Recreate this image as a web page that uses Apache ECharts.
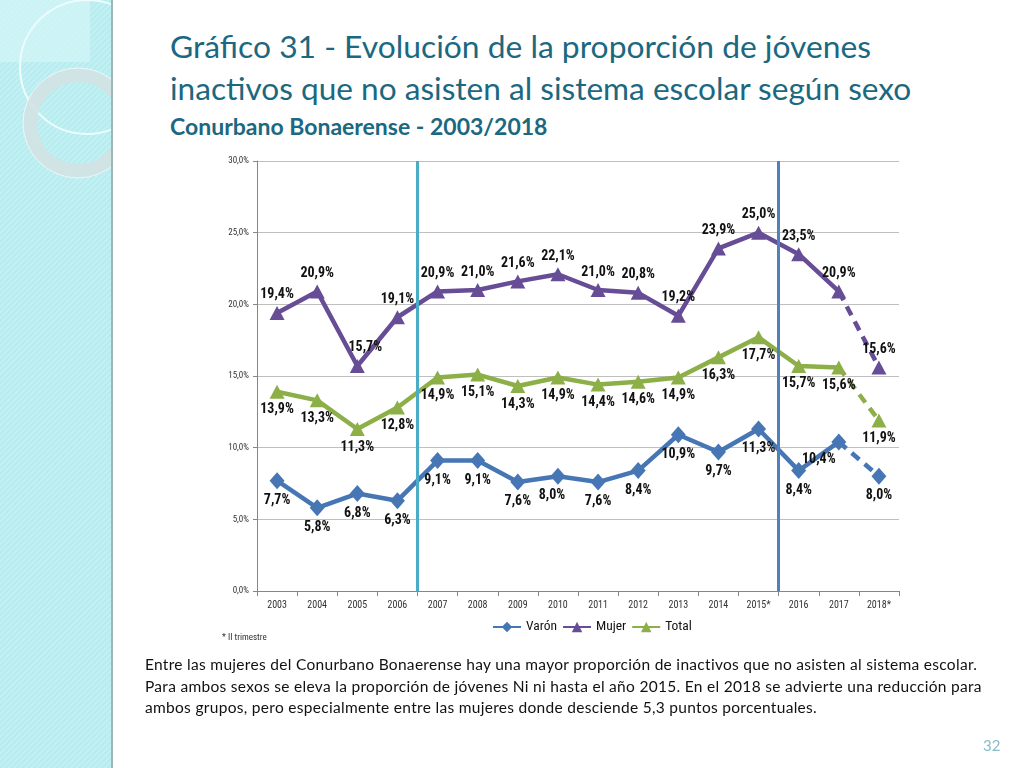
<!DOCTYPE html>
<html>
<head>
<meta charset="utf-8">
<script src="https://cdn.jsdelivr.net/npm/echarts@6/dist/echarts.min.js"></script>
<style>
	html, body { margin: 0; padding: 0; background: #fff; }
	#page { position: relative; width: 1024px; height: 768px; overflow: hidden; background: #fff; }
	#strip { position: absolute; left: 0; top: 0; width: 113px; height: 768px; }
	#main { position: absolute; left: 0; top: 0; width: 1024px; height: 768px; }
	.title { position: absolute; left: 170px; color: #1b6880; font-family: Lato, "Open Sans", sans-serif; white-space: nowrap; }
	#t1 { top: 27px; font-size: 31.8px; }
	#t2 { top: 69px; font-size: 31.6px; }
	#t3 { top: 112px; font-size: 23px; font-weight: bold; }
	#note { position: absolute; left: 145px; top: 654px; font-family: Lato, "Open Sans", sans-serif; font-size: 15.5px; letter-spacing: 0.3px; line-height: 21.5px; color: #111; white-space: nowrap; }
	#pnum { position: absolute; left: 983px; top: 736px; font-family: Lato, sans-serif; font-size: 15px; color: #86bcc8; }
</style>
</head>
<body>
<div id="page">
	<svg id="strip" width="113" height="768">
		<defs>
			<pattern id="hatch" width="4" height="4" patternUnits="userSpaceOnUse" patternTransform="rotate(45)">
				<rect width="4" height="4" fill="#b6ecef"/>
				<rect width="2" height="4" fill="#c3f1f3"/>
			</pattern>
		</defs>
		<rect x="0" y="0" width="113" height="768" fill="url(#hatch)"/>
		<rect x="0" y="0" width="90" height="62" fill="#d4f5f6" opacity="0.7"/>
		<circle cx="87" cy="67" r="67" fill="none" stroke="#eefcfc" stroke-width="2"/>
		<circle cx="78" cy="123" r="48" fill="none" stroke="#d3e2e3" stroke-width="14" opacity="0.9"/>
		<circle cx="78" cy="123" r="55" fill="none" stroke="#eef7f7" stroke-width="1"/>
		<rect x="111" y="0" width="2" height="768" fill="#9fb5b8"/>
	</svg>
	<div class="title" id="t1">Gráfico 31 - Evolución de la proporción de jóvenes</div>
	<div class="title" id="t2">inactivos que no asisten al sistema escolar según sexo</div>
	<div class="title" id="t3">Conurbano Bonaerense - 2003/2018</div>
	<div id="main"></div>
	<div id="note">Entre las mujeres del Conurbano Bonaerense hay una mayor proporción de inactivos que no asisten al sistema escolar.<br>Para ambos sexos se eleva la proporción de jóvenes Ni ni hasta el año 2015. En el 2018 se advierte una reducción para<br>ambos grupos, pero especialmente entre las mujeres donde desciende 5,3 puntos porcentuales.</div>
	<div id="pnum">32</div>
</div>
<script>
var years = ['2003', '2004', '2005', '2006', '2007', '2008', '2009', '2010', '2011', '2012', '2013', '2014', '2015*', '2016', '2017', '2018*'];
var varon = [7.7, 5.8, 6.8, 6.3, 9.1, 9.1, 7.6, 8.0, 7.6, 8.4, 10.9, 9.7, 11.3, 8.4, 10.4, 8.0];
var mujer = [19.4, 20.9, 15.7, 19.1, 20.9, 21.0, 21.6, 22.1, 21.0, 20.8, 19.2, 23.9, 25.0, 23.5, 20.9, 15.6];
var total = [13.9, 13.3, 11.3, 12.8, 14.9, 15.1, 14.3, 14.9, 14.4, 14.6, 14.9, 16.3, 17.7, 15.7, 15.6, 11.9];
var breaks = [4, 13]; // cambios de serie (entre 2006/2007 y 2015/2016)

var chartFont = '"Liberation Sans Narrow", "Roboto Condensed", Roboto, sans-serif';

function pct(v) {
	return v.toFixed(1).replace('.', ',') + '%';
}

var main = echarts.init(document.getElementById('main'));

// arma el tramo solido (hasta 2017) y el punteado (2017 -> 2018)
function makeSeries(name, values, color, symbol, labelPos) {
	var last = values.length - 1;
	var solid = values.map(function(v, i) {
		return i < last ? v : '-';
	});
	var dashed = values.map(function(v, i) {
		if (i == last - 1) return { value: v, symbol: 'none', label: { show: false } };
		return i == last ? v : '-';
	});
	var label = {
		show : true,
		position : labelPos,
		distance : 4,
		fontFamily : chartFont,
		fontSize : 14,
		fontWeight : 'bold',
		color : '#111',
		formatter : function(p) { return pct(p.value); }
	};
	var size = symbol == 'diamond' ? [15, 17] : [15, 14];
	return [ {
		name : name,
		type : 'line',
		data : solid,
		symbol : symbol,
		symbolSize : size,
		itemStyle : { color : color },
		lineStyle : { color : color, width : 4.5 },
		label : label,
		z : 3
	}, {
		name : name + '_2018',
		type : 'line',
		data : dashed,
		symbol : symbol,
		symbolSize : size,
		itemStyle : { color : color },
		lineStyle : { color : color, width : 4.5, type : [10, 7] },
		label : label,
		z : 3
	} ];
}

var series = [].concat(
	makeSeries('Varón', varon, '#4776b4', 'diamond', 'bottom'),
	makeSeries('Mujer', mujer, '#674c96', 'triangle', 'top'),
	makeSeries('Total', total, '#8caf48', 'triangle', 'bottom')
);

// lineas verticales de corte
series.push({
	name : 'cortes',
	type : 'line',
	xAxisIndex : 1,
	data : [],
	silent : true,
	markLine : {
		silent : true,
		symbol : 'none',
		label : { show : false },
		data : [
			{ xAxis : breaks[0], lineStyle : { color : '#4bacc6', width : 3, type : 'solid' } },
			{ xAxis : breaks[1], lineStyle : { color : '#4f81bd', width : 3, type : 'solid' } }
		]
	},
	z : 2
});

// etiquetas que en el original van corridas
series[0].data = series[0].data.map(function(v, i) {
	if (i == 14) return { value : v, label : { offset : [-20, -2] } };
	if (i == 7) return { value : v, label : { offset : [-6, 0] } };
	return v;
});
series[2].data = series[2].data.map(function(v, i) {
	if (i == 2) return { value : v, label : { offset : [8, 0] } };
	return v;
});

var option = {
	animation : false,
	textStyle : { fontFamily : chartFont },
	grid : { left : 257, right : 125, top : 161, bottom : 177 },
	legend : {
		data : ['Varón', 'Mujer', 'Total'],
		left : 487,
		top : 615,
		itemWidth : 28,
		itemHeight : 13,
		itemGap : 5,
		textStyle : { fontFamily : chartFont, fontSize : 13.5, color : '#111' }
	},
	graphic : [ {
		type : 'text',
		left : 222,
		top : 633,
		style : { text : '* II trimestre', fontFamily : chartFont, fontSize : 9, fill : '#333' }
	} ],
	xAxis : [ {
		type : 'category',
		data : years,
		axisLine : { lineStyle : { color : '#868686' } },
		axisTick : { show : true, length : 5, lineStyle : { color : '#868686' } },
		axisLabel : { fontSize : 10, color : '#333', margin : 9 }
	}, {
		type : 'value',
		min : 0,
		max : years.length,
		show : false
	} ],
	yAxis : {
		type : 'value',
		min : 0,
		max : 30,
		interval : 5,
		axisLine : { show : true, lineStyle : { color : '#868686' } },
		axisTick : { show : true, length : 4, lineStyle : { color : '#868686' } },
		splitLine : { lineStyle : { color : '#bfbfbf' } },
		axisLabel : { fontSize : 9, color : '#333', margin : 8, formatter : function(v) { return pct(v); } }
	},
	series : series
};

main.setOption(option);
</script>
</body>
</html>
